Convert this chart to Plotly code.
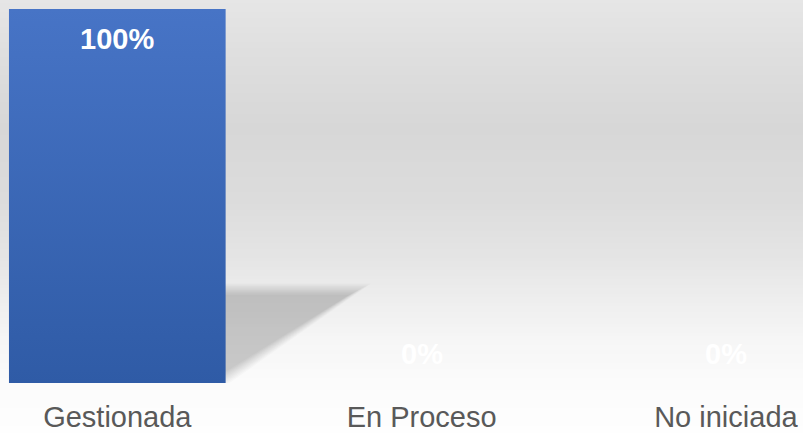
import plotly.graph_objects as go

# Chart data
categories = ["Gestionada", "En Proceso", "No iniciada"]
values = [100, 0, 0]
value_labels = ["100%", "0%", "0%"]

BAR_WIDTH = 0.712
BAR_TOP = "#4774C6"
BAR_BOTTOM = "#2F5BA6"
FONT = "Liberation Sans, Arial, sans-serif"

W, H = 803, 433
PLOT_H = 383                  # plot area height in px (bottom margin holds the labels)
CAT_SPAN = 304.3              # px per category
CAT0 = 117.3                  # px position of the first category
Y_TOP = 100 + 9 / 3.74        # y-range top so that 100 sits 9 px below the edge
PX_Y = PLOT_H / Y_TOP         # px per y unit

fig = go.Figure()

# Vertical background gradient (light grey, darkest in the upper third, near white at the bottom)
bg_stops = [(0, 230), (60, 222), (127, 215), (200, 220), (260, 229),
            (300, 238), (340, 246), (383, 251), (433, 254)]


def grey_at(py):
    for (y0, c0), (y1, c1) in zip(bg_stops, bg_stops[1:]):
        if y0 <= py <= y1:
            t = (py - y0) / (y1 - y0)
            return round(c0 + (c1 - c0) * t)
    return bg_stops[-1][1]


step = 3
for py in range(0, H, step):
    g = grey_at(py + step / 2)
    fig.add_shape(type="rect", xref="paper", yref="paper",
                  x0=0, x1=1,
                  y0=1 - (py + step + 0.5) / PLOT_H, y1=1 - py / PLOT_H,
                  line_width=0, fillcolor=f"rgb({g},{g},{g})", layer="below")

# Perspective drop shadow behind each non-zero bar, soft edges from stacked layers
for i, v in enumerate(values):
    if v <= 0:
        continue
    left = i - BAR_WIDTH / 2
    right = i + BAR_WIDTH / 2
    sh_h = 0.235 * v
    base_r = right - 0.06
    top_r = right + 0.405
    n = 10
    for k in range(n):
        e = (n - 1 - k) * 1.3          # expansion in px
        ex = e / CAT_SPAN
        ey = e / PX_Y
        path = (f"M {left},{0} L {base_r + ex * 1.9},{0} "
                f"L {top_r + ex * 1.9},{sh_h + ey} "
                f"L {left},{sh_h + ey} Z")
        fig.add_shape(type="path", path=path, xref="x", yref="y",
                      line_width=0, fillcolor="rgba(0,0,0,0.02)", layer="below")
    # thin contact shadow under the bar
    fig.add_shape(type="rect", xref="x", yref="y", x0=left, x1=right + 0.01,
                  y0=-2.2 / PX_Y, y1=0, line_width=0,
                  fillcolor="rgba(0,0,0,0.12)", layer="below")

# Bars with a vertical gradient fill
for i, (cat, v) in enumerate(zip(categories, values)):
    if v <= 0:
        continue
    left = i - BAR_WIDTH / 2
    right = i + BAR_WIDTH / 2
    fig.add_trace(go.Scatter(
        x=[left, right, right, left, left],
        y=[0, 0, v, v, 0],
        mode="lines", fill="toself", line=dict(width=0),
        fillgradient=dict(type="vertical",
                          colorscale=[[0, BAR_BOTTOM], [1, BAR_TOP]]),
        hoverinfo="skip", showlegend=False, name=cat,
    ))

# Transparent bar trace keeps the category axis tied to the data
fig.add_trace(go.Bar(x=list(range(len(categories))), y=values, width=BAR_WIDTH,
                     marker=dict(color="rgba(0,0,0,0)", line=dict(width=0)),
                     showlegend=False, hoverinfo="skip"))

# Value labels (inside end of each bar)
for i, (v, lab) in enumerate(zip(values, value_labels)):
    fig.add_annotation(x=i, y=v, text=f"<b>{lab}</b>", showarrow=False,
                       xanchor="center", yanchor="middle",
                       yshift=-29.5 if v > 0 else 29,
                       font=dict(family=FONT, size=29, color="#ffffff"))

fig.update_layout(
    width=W, height=H,
    margin=dict(l=0, r=0, t=0, b=H - PLOT_H),
    paper_bgcolor="#fdfdfd",
    plot_bgcolor="rgba(0,0,0,0)",
    xaxis=dict(range=[-CAT0 / CAT_SPAN, (W - CAT0) / CAT_SPAN],
               tickmode="array", tickvals=list(range(len(categories))),
               ticktext=categories, showgrid=False, zeroline=False,
               showline=False, ticks="", ticklabelstandoff=14,
               tickfont=dict(family=FONT, size=29, color="#595959")),
    yaxis=dict(range=[0, Y_TOP], visible=False, fixedrange=True),
    showlegend=False,
)

fig.write_html("out.html")
